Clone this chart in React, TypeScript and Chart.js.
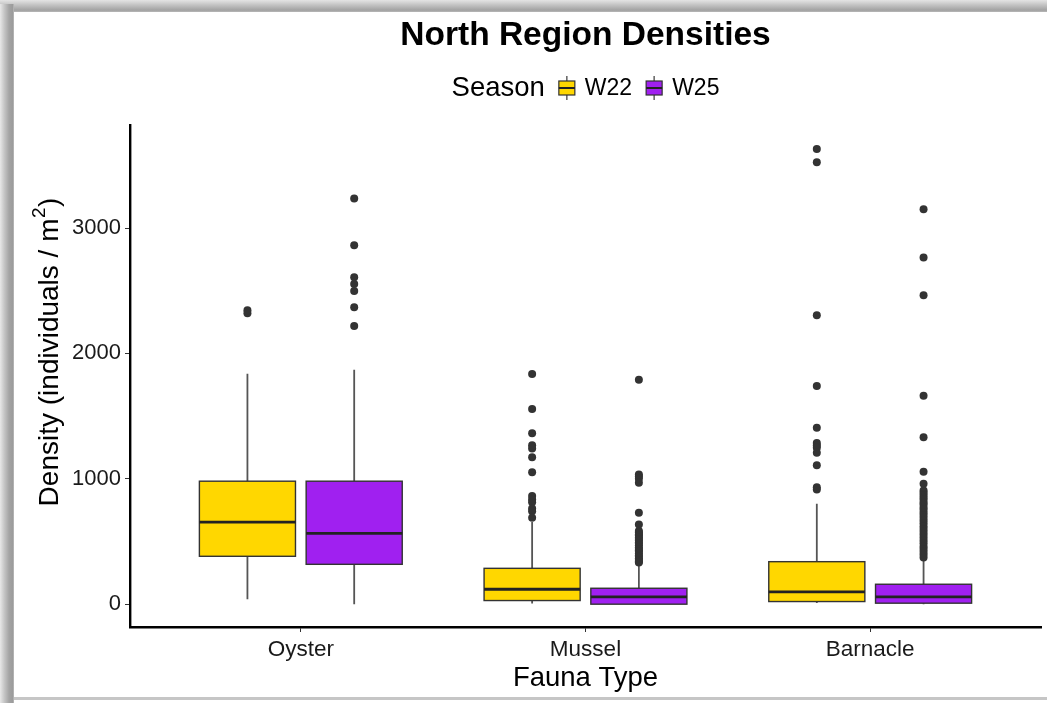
import React, { useEffect, useRef } from "react";
import { Chart, registerables } from "chart.js";

Chart.register(...registerables);

// Fauna categories and seasons
const categories = ["Oyster", "Mussel", "Barnacle"];
const seasons = ["W22", "W25"];
const seasonColors = ["#FFD700", "#A020F0"];

// Box statistics per category (whisker low, Q1, median, Q3, whisker high)
const w22Low = [40, 5, 10];
const w22Q1 = [382, 29, 21];
const w22Median = [655, 119, 98];
const w22Q3 = [981, 286, 339];
const w22High = [1838, 655, 801];

const w25Low = [0, 0, 0];
const w25Q1 = [318, 0, 8];
const w25Median = [565, 58, 58];
const w25Q3 = [981, 127, 159];
const w25High = [1870, 318, 358];

// Outlying observations
const oysterW22Outliers = [2320, 2345];
const oysterW25Outliers = [3235, 2862, 2607, 2554, 2498, 2368, 2219];
const musselW22Outliers = [1835, 1557, 1363, 1268, 1241, 1172, 1053, 862, 835, 814, 764, 742, 690];
const musselW25Outliers = [
  1790, 1034, 1018, 1000, 968, 729, 636, 583, 571, 556, 548, 531, 519, 507, 494, 482, 470, 455, 441,
  430, 418, 404, 391, 379, 366, 352, 340, 332,
];
const barnacleW22Outliers = [3630, 3524, 2305, 1740, 1408, 1286, 1265, 1247, 1207, 1108, 933, 915];
const barnacleW25Outliers = [
  3150, 2766, 2464, 1663, 1331, 1056, 960, 907, 889, 871, 850, 833, 812, 795, 772, 754, 731, 712,
  690, 668, 645, 622, 600, 577, 556, 531, 508, 486, 461, 440, 418, 396, 372,
];

const yTicks = [0, 1000, 2000, 3000];

// Dodge geometry in category units
const DODGE = 0.1875;
const BOX_WIDTH = 0.3375;
const FONT = '"Liberation Sans", Arial, sans-serif';

const w22Outliers = [oysterW22Outliers, musselW22Outliers, barnacleW22Outliers];
const w25Outliers = [oysterW25Outliers, musselW25Outliers, barnacleW25Outliers];

const toPoints = (groups: number[][], shift: number) =>
  groups.flatMap((vals, i) => vals.map((v) => ({ x: i + 1 + shift, y: v })));

const boxGroups = [
  { low: w22Low, q1: w22Q1, med: w22Median, q3: w22Q3, high: w22High, color: seasonColors[0], shift: -DODGE },
  { low: w25Low, q1: w25Q1, med: w25Median, q3: w25Q3, high: w25High, color: seasonColors[1], shift: DODGE },
];

const boxplotPlugin = {
  id: "boxplots",
  beforeDatasetsDraw(chart: any) {
    const { ctx } = chart;
    const x = chart.scales.x;
    const y = chart.scales.y;
    ctx.save();
    boxGroups.forEach((g) => {
      categories.forEach((_, i) => {
        const c = i + 1 + g.shift;
        const cx = x.getPixelForValue(c);
        const left = x.getPixelForValue(c - BOX_WIDTH / 2);
        const right = x.getPixelForValue(c + BOX_WIDTH / 2);
        const yLow = y.getPixelForValue(g.low[i]);
        const yQ1 = y.getPixelForValue(g.q1[i]);
        const yMed = y.getPixelForValue(g.med[i]);
        const yQ3 = y.getPixelForValue(g.q3[i]);
        const yHigh = y.getPixelForValue(g.high[i]);

        ctx.strokeStyle = "#555555";
        ctx.lineWidth = 1.8;
        ctx.beginPath();
        ctx.moveTo(cx, yHigh);
        ctx.lineTo(cx, yQ3);
        ctx.moveTo(cx, yQ1);
        ctx.lineTo(cx, yLow);
        ctx.stroke();

        ctx.fillStyle = g.color;
        ctx.fillRect(left, yQ3, right - left, yQ1 - yQ3);
        ctx.strokeStyle = "#333333";
        ctx.lineWidth = 1.4;
        ctx.strokeRect(left, yQ3, right - left, yQ1 - yQ3);

        ctx.strokeStyle = "#222222";
        ctx.lineWidth = 2.8;
        ctx.beginPath();
        ctx.moveTo(left, yMed);
        ctx.lineTo(right, yMed);
        ctx.stroke();
      });
    });
    ctx.restore();
  },
};

const drawKey = (ctx: CanvasRenderingContext2D, cx: number, cy: number, color: string) => {
  const w = 16;
  const h = 14;
  ctx.strokeStyle = "#555555";
  ctx.lineWidth = 1.4;
  ctx.beginPath();
  ctx.moveTo(cx, cy - 12);
  ctx.lineTo(cx, cy + 12);
  ctx.stroke();
  ctx.fillStyle = color;
  ctx.fillRect(cx - w / 2, cy - h / 2, w, h);
  ctx.strokeStyle = "#333333";
  ctx.lineWidth = 1.2;
  ctx.strokeRect(cx - w / 2, cy - h / 2, w, h);
  ctx.strokeStyle = "#222222";
  ctx.lineWidth = 2;
  ctx.beginPath();
  ctx.moveTo(cx - w / 2, cy);
  ctx.lineTo(cx + w / 2, cy);
  ctx.stroke();
};

const headerPlugin = {
  id: "header",
  afterDraw(chart: any) {
    const { ctx, chartArea } = chart;
    const mid = (chartArea.left + chartArea.right) / 2;
    ctx.save();
    ctx.fillStyle = "#000";
    ctx.textBaseline = "middle";
    ctx.textAlign = "center";
    ctx.font = `bold 33.5px ${FONT}`;
    ctx.fillText("North Region Densities", mid, 36);

    // Legend row: "Season" followed by a key and label per season
    const legendY = 88;
    const keyW = 16;
    const gapBefore = 14;
    const gapAfter = 10;
    ctx.textAlign = "left";
    ctx.font = `27.5px ${FONT}`;
    const titleW = ctx.measureText("Season").width;
    ctx.font = `23px ${FONT}`;
    const labelWs = seasons.map((s) => ctx.measureText(s).width);
    const total =
      titleW + seasons.reduce((acc, _, i) => acc + gapBefore + keyW + gapAfter + labelWs[i], 0);
    let xPos = mid - total / 2;
    ctx.font = `27.5px ${FONT}`;
    ctx.fillText("Season", xPos, legendY);
    xPos += titleW;
    seasons.forEach((s, i) => {
      xPos += gapBefore;
      drawKey(ctx, xPos + keyW / 2, legendY, seasonColors[i]);
      xPos += keyW + gapAfter;
      ctx.fillStyle = "#000";
      ctx.font = `23px ${FONT}`;
      ctx.fillText(s, xPos, legendY + 1);
      xPos += labelWs[i];
    });

    // Y axis title with a superscript unit exponent
    const base = "Density (individuals / m";
    ctx.translate(48, 352);
    ctx.rotate(-Math.PI / 2);
    ctx.font = `28px ${FONT}`;
    const baseW = ctx.measureText(base).width;
    const closeW = ctx.measureText(")").width;
    ctx.font = `19px ${FONT}`;
    const supW = ctx.measureText("2").width;
    const totalW = baseW + supW + 1 + closeW;
    let tx = -totalW / 2;
    ctx.textAlign = "left";
    ctx.textBaseline = "alphabetic";
    ctx.font = `28px ${FONT}`;
    ctx.fillText(base, tx, 10);
    tx += baseW + 0.5;
    ctx.font = `19px ${FONT}`;
    ctx.fillText("2", tx, -3);
    tx += supW + 0.5;
    ctx.font = `28px ${FONT}`;
    ctx.fillText(")", tx, 10);
    ctx.restore();
  },
};

export default function App() {
  const canvasRef = useRef<HTMLCanvasElement | null>(null);

  useEffect(() => {
    if (!canvasRef.current) return;
    Chart.defaults.font.family = FONT;
    const chart = new Chart(canvasRef.current, {
      type: "scatter",
      data: {
        datasets: [
          {
            label: seasons[0],
            data: toPoints(w22Outliers, -DODGE),
            backgroundColor: "#333333",
            borderWidth: 0,
            pointRadius: 4,
            pointHoverRadius: 4,
          },
          {
            label: seasons[1],
            data: toPoints(w25Outliers, DODGE),
            backgroundColor: "#333333",
            borderWidth: 0,
            pointRadius: 4,
            pointHoverRadius: 4,
          },
        ],
      },
      options: {
        animation: false,
        responsive: false,
        devicePixelRatio: 1,
        layout: { padding: { top: 125, right: 6, bottom: 0, left: 0 } },
        plugins: {
          legend: { display: false },
          tooltip: { enabled: false },
          title: { display: false },
        },
        scales: {
          x: {
            type: "linear",
            min: 0.4,
            max: 3.6,
            afterBuildTicks: (s: any) => {
              s.ticks = categories.map((_, i) => ({ value: i + 1 }));
            },
            afterFit: (s: any) => {
              s.height = 76;
            },
            ticks: {
              callback: (v: any) => categories[Math.round(Number(v)) - 1] ?? "",
              font: { size: 22.5 },
              color: "#1a1a1a",
              padding: 4,
              autoSkip: false,
              maxRotation: 0,
            },
            grid: { drawOnChartArea: false, tickLength: 5, color: "#333333" },
            border: { display: true, color: "#000", width: 2.4 },
            title: {
              display: true,
              text: "Fauna Type",
              font: { size: 27.5 },
              color: "#000",
              padding: { top: 0, bottom: 8 },
            },
          },
          y: {
            type: "linear",
            min: -182,
            max: 3822,
            afterBuildTicks: (s: any) => {
              s.ticks = yTicks.map((v) => ({ value: v }));
            },
            afterFit: (s: any) => {
              s.width = 130;
            },
            ticks: {
              callback: (v: any) => String(v),
              font: { size: 22 },
              color: "#1a1a1a",
              padding: 4,
            },
            grid: { drawOnChartArea: false, tickLength: 5, color: "#333333" },
            border: { display: true, color: "#000", width: 2.4 },
            title: { display: false },
          },
        },
      },
      plugins: [boxplotPlugin, headerPlugin],
    } as any);
    return () => chart.destroy();
  }, []);

  return (
    <div
      style={{
        position: "absolute",
        left: 0,
        top: 0,
        width: 1047,
        height: 703,
        background: "#fff",
        overflow: "hidden",
      }}
    >
      <div
        style={{
          position: "absolute",
          left: 0,
          top: 0,
          width: 1047,
          height: 12,
          background: "linear-gradient(to bottom, #e4e4e4 0%, #c4c4c4 40%, #a2a2a2 85%, #b8b8b8 100%)",
        }}
      />
      <div
        style={{
          position: "absolute",
          left: 0,
          top: 4,
          width: 14,
          height: 699,
          background: "linear-gradient(to right, #e8e8e8 0%, #c6c6c6 30%, #a4a4a4 65%, #9c9c9c 90%, #bdbdbd 100%)",
        }}
      />
      <div
        style={{
          position: "absolute",
          left: 14,
          top: 697,
          width: 1033,
          height: 3,
          background: "#c6c6c6",
        }}
      />
      <canvas
        ref={canvasRef}
        width={1047}
        height={703}
        style={{ position: "absolute", left: 0, top: 0, width: 1047, height: 703 }}
      />
    </div>
  );
}
